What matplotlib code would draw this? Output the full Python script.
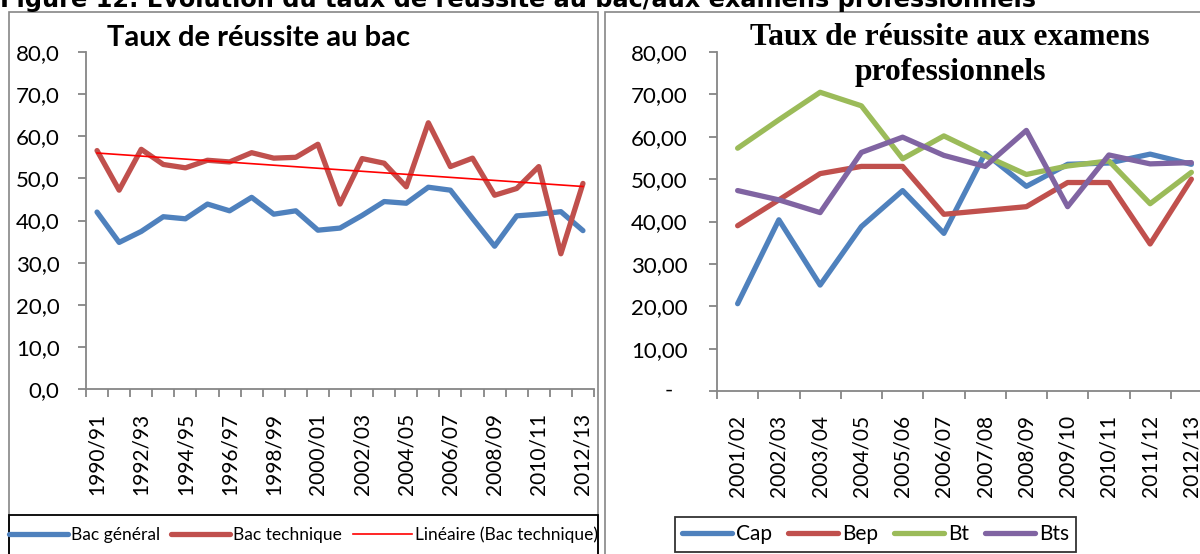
"""
Figure 12 - Evolution du taux de reussite au bac / aux examens professionnels
Two Excel-style line charts side by side.
"""

import numpy as np
import matplotlib.pyplot as plt
from matplotlib.patches import Rectangle
from matplotlib.lines import Line2D


# --- data -------------------------------------------------------------------

bac_years = [
    "1990/91", "1991/92", "1992/93", "1993/94", "1994/95", "1995/96",
    "1996/97", "1997/98", "1998/99", "1999/00", "2000/01", "2001/02",
    "2002/03", "2003/04", "2004/05", "2005/06", "2006/07", "2007/08",
    "2008/09", "2009/10", "2010/11", "2011/12", "2012/13",
]
bac_general = [
    42.0, 34.8, 37.4, 40.9, 40.4, 43.9, 42.3, 45.5, 41.5, 42.3, 37.7, 38.2,
    41.2, 44.5, 44.1, 47.9, 47.2, 40.5, 33.9, 41.1, 41.5, 42.1, 37.6,
]
bac_technique = [
    56.6, 47.2, 56.9, 53.3, 52.5, 54.3, 53.9, 56.1, 54.8, 55.0, 58.1, 43.9,
    54.7, 53.6, 48.0, 63.2, 52.8, 54.8, 46.0, 47.6, 52.8, 32.1, 48.8,
]

pro_years = [
    "2001/02", "2002/03", "2003/04", "2004/05", "2005/06", "2006/07",
    "2007/08", "2008/09", "2009/10", "2010/11", "2011/12", "2012/13",
]
cap = [20.6, 40.4, 25.0, 38.8, 47.3, 37.2, 56.1, 48.3, 53.5, 53.8, 55.9, 53.5]
bep = [39.0, 45.1, 51.3, 53.0, 53.0, 41.7, 42.6, 43.5, 49.2, 49.2, 34.7, 50.0]
bt = [57.3, 64.0, 70.5, 67.3, 54.8, 60.2, 55.5, 51.1, 53.1, 54.3, 44.2, 51.6]
bts = [47.3, 45.1, 42.1, 56.3, 59.9, 55.6, 53.0, 61.5, 43.5, 55.7, 53.6, 53.9]

y_ticks = [0, 10, 20, 30, 40, 50, 60, 70, 80]
left_ylabels = ["0,0", "10,0", "20,0", "30,0", "40,0", "50,0", "60,0", "70,0", "80,0"]
# zero is shown as an accounting dash, drawn separately below
right_ylabels = ["", "10,00", "20,00", "30,00", "40,00", "50,00", "60,00", "70,00", "80,00"]


# --- style ------------------------------------------------------------------

W, H = 1200, 554
BLUE = "#4F81BD"
RED = "#C0504D"
GREEN = "#9BBB59"
PURPLE = "#8064A2"
AXIS_GREY = "#868686"
FONT = "Lato"
LW = 3.8


def fx(px):
    return px / W


def fy(py):
    return 1 - py / H


def style_axis(ax, n, labels, show_every, ylabels, ypad):
    for side in ("top", "right"):
        ax.spines[side].set_visible(False)
    for side in ("left", "bottom"):
        ax.spines[side].set_color(AXIS_GREY)
        ax.spines[side].set_linewidth(1.3)

    ax.set_xlim(-0.5, n - 0.5)
    ax.set_ylim(0, 80)

    # tick marks between categories, labels on the categories
    ax.set_xticks(np.arange(n + 1) - 0.5)
    ax.set_xticklabels([])
    ax.set_xticks(np.arange(0, n, show_every), minor=True)
    ax.set_xticklabels(labels[::show_every], minor=True, rotation=90,
                       fontsize=15, family=FONT)
    ax.tick_params(axis="x", which="major", direction="out", length=6,
                   width=1.3, color=AXIS_GREY)
    ax.tick_params(axis="x", which="minor", length=0, pad=17)

    ax.set_yticks(y_ticks)
    ax.set_yticklabels(ylabels, fontsize=16, family=FONT)
    ax.tick_params(axis="y", direction="out", length=6, width=1.3,
                   color=AXIS_GREY, pad=ypad)


fig = plt.figure(figsize=(12, 5.54), dpi=100)

# panel frames
fig.add_artist(Rectangle((fx(9), fy(560)), fx(598 - 9), 548 / H, fill=False,
                         edgecolor=AXIS_GREY, linewidth=1.2,
                         transform=fig.transFigure))
fig.add_artist(Rectangle((fx(605), fy(560)), fx(620), 548 / H, fill=False,
                         edgecolor=AXIS_GREY, linewidth=1.2,
                         transform=fig.transFigure))

fig.text(0.0, fy(7), "Figure 12. Evolution du taux de réussite au bac/aux examens professionnels",
         fontsize=17.3, fontweight="bold", family="DejaVu Sans",
         ha="left", va="baseline")

# --- left chart ---------------------------------------------------------------
ax1 = fig.add_axes([fx(86), fy(389), fx(594 - 86), 337 / H])
x1 = np.arange(len(bac_years))
ax1.plot(x1, bac_general, color=BLUE, lw=LW, solid_joinstyle="round",
         solid_capstyle="round", label="Bac général")
ax1.plot(x1, bac_technique, color=RED, lw=LW, solid_joinstyle="round",
         solid_capstyle="round", label="Bac technique")
slope, intercept = np.polyfit(x1, bac_technique, 1)
ax1.plot(x1, slope * x1 + intercept, color="#FF0000", lw=1.2,
         label="Linéaire (Bac technique)")
style_axis(ax1, len(bac_years), bac_years, 2, left_ylabels, 13)

fig.text(fx(107), fy(38), "Taux de réussite au bac", fontsize=21,
         fontweight="bold", family=FONT, ha="left", va="center")

# legend area: black frame across the bottom of the panel
fig.add_artist(Rectangle((fx(9), fy(560)), fx(598 - 9), 45 / H, fill=False,
                         edgecolor="black", linewidth=1.3,
                         transform=fig.transFigure))
leg1 = fig.legend(
    handles=[
        Line2D([], [], color=BLUE, lw=LW, solid_capstyle="round"),
        Line2D([], [], color=RED, lw=LW, solid_capstyle="round"),
        Line2D([], [], color="#FF0000", lw=1.2),
    ],
    labels=["Bac général", "Bac technique", "Linéaire (Bac technique)"],
    loc="center left", bbox_to_anchor=(fx(2), fy(535)), borderaxespad=0,
    ncol=3, frameon=False, handlelength=3.4, handletextpad=0.2,
    columnspacing=0.6, prop={"family": FONT, "size": 12.5},
)

# --- right chart --------------------------------------------------------------
ax2 = fig.add_axes([fx(717), fy(391), fx(1212 - 717), 339 / H])
x2 = np.arange(len(pro_years))
for values, color, name in [(cap, BLUE, "Cap"), (bep, RED, "Bep"),
                            (bt, GREEN, "Bt"), (bts, PURPLE, "Bts")]:
    ax2.plot(x2, values, color=color, lw=LW, solid_joinstyle="round",
             solid_capstyle="round", label=name)
style_axis(ax2, len(pro_years), pro_years, 1, right_ylabels, 15)

ax2.annotate("-", xy=(0, 0), xycoords=("axes fraction", "data"),
             xytext=(-32, 0), textcoords="offset points",
             ha="right", va="center", fontsize=16, family=FONT,
             annotation_clip=False)

fig.text(fx(950), fy(55), "Taux de réussite aux examens\nprofessionnels",
         fontsize=22.8, fontweight="bold", family="Liberation Serif",
         ha="center", va="center", linespacing=1.25)

leg2 = fig.legend(
    handles=[Line2D([], [], color=c, lw=LW, solid_capstyle="round")
             for c in (BLUE, RED, GREEN, PURPLE)],
    labels=["Cap", "Bep", "Bt", "Bts"],
    loc="upper left", bbox_to_anchor=(fx(675), fy(517)), borderaxespad=0,
    ncol=4, frameon=True, fancybox=False, edgecolor="black", borderpad=0.35,
    handlelength=2.4, handletextpad=0.2, columnspacing=0.75,
    prop={"family": FONT, "size": 15},
)
leg2.get_frame().set_linewidth(1.3)

fig.savefig("out.png", dpi=100)
